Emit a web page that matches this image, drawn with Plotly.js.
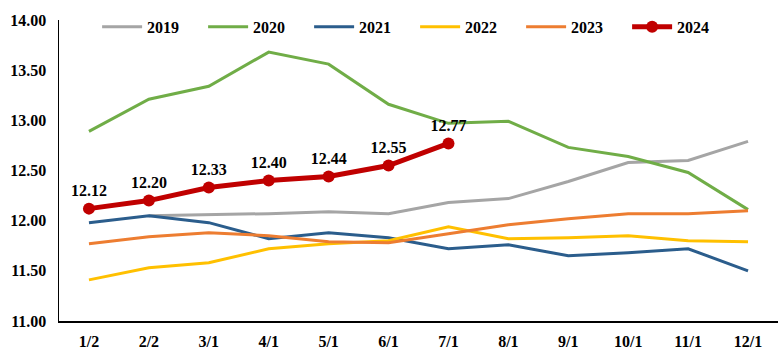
<!DOCTYPE html>
<html>
<head>
<meta charset="utf-8">
<script src="https://cdn.plot.ly/plotly-3.0.1.min.js"></script>
<style>html,body{margin:0;padding:0;background:#fff;}#chart{width:783px;height:360px;}</style>
</head>
<body>
<div id="chart"></div>
<script>
const categories = ["1/2","2/2","3/1","4/1","5/1","6/1","7/1","8/1","9/1","10/1","11/1","12/1"];
const y2019 = [null,12.05,12.06,12.07,12.09,12.07,12.18,12.22,12.39,12.58,12.60,12.79];
const y2020 = [12.89,13.21,13.34,13.68,13.56,13.16,12.97,12.99,12.73,12.64,12.48,12.11];
const y2021 = [11.98,12.05,11.98,11.82,11.88,11.83,11.72,11.76,11.65,11.68,11.72,11.50];
const y2022 = [11.41,11.53,11.58,11.72,11.77,11.80,11.94,11.82,11.83,11.85,11.80,11.79];
const y2023 = [11.77,11.84,11.88,11.85,11.79,11.78,11.87,11.96,12.02,12.07,12.07,12.10];
const y2024 = [12.12,12.20,12.33,12.40,12.44,12.55,12.77];

const font = "Liberation Serif, Times New Roman, serif";
function line(name, y, color){
  return {x: categories, y: y, name: name, type: "scatter", mode: "lines",
    line: {color: color, width: 3}, hoverinfo: "skip"};
}
const traces = [
  line("2019", y2019, "#A5A5A5"),
  line("2020", y2020, "#70AD47"),
  line("2021", y2021, "#2B5D8C"),
  line("2022", y2022, "#FFC000"),
  line("2023", y2023, "#ED7D31"),
  {x: categories.slice(0, y2024.length), y: y2024, name: "2024", type: "scatter",
   mode: "lines+markers+text", line: {color: "#C00000", width: 5},
   marker: {color: "#C00000", size: 12},
   text: y2024.map(v => v.toFixed(2)), textposition: "top center",
   textfont: {family: font, size: 16, color: "#000"}, hoverinfo: "skip"}
];
const layout = {
  width: 783, height: 360,
  margin: {l: 59, r: 5, t: 20, b: 39, autoexpand: false},
  paper_bgcolor: "#fff", plot_bgcolor: "#fff",
  font: {family: font, size: 16, color: "#000", weight: "bold"},
  showlegend: true,
  legend: {orientation: "h", x: 0.053, xanchor: "left", y: 0.977, yanchor: "middle",
    font: {family: font, size: 16, color: "#000", weight: "bold"},
    itemwidth: 40, entrywidth: 51, entrywidthmode: "pixels", bgcolor: "rgba(0,0,0,0)"},
  xaxis: {type: "category", range: [-0.5, 11.5], showgrid: false, zeroline: false,
    showline: true, linecolor: "#000", linewidth: 1.5, ticks: "", ticklabelstandoff: 5,
    tickfont: {family: font, size: 16, color: "#000", weight: "bold"}, fixedrange: true},
  yaxis: {range: [11, 14], dtick: 0.5, tickformat: ".2f", showgrid: false, zeroline: false,
    showline: true, linecolor: "#000", linewidth: 1.5, ticks: "", ticklabelstandoff: 8,
    tickfont: {family: font, size: 16, color: "#000", weight: "bold"}, fixedrange: true}
};
Plotly.newPlot("chart", traces, layout, {displayModeBar: false, staticPlot: true});
</script>
</body>
</html>
